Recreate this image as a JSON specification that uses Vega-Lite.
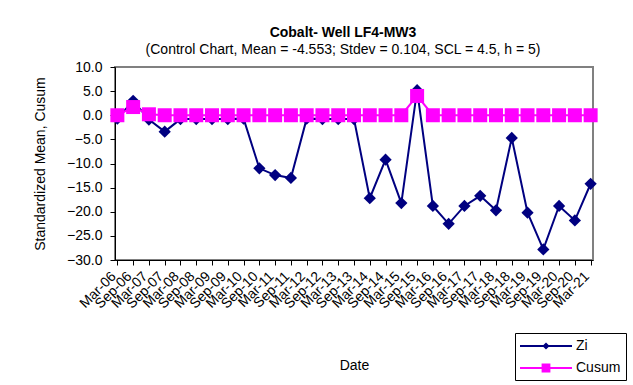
{
  "$schema": "https://vega.github.io/schema/vega-lite/v6.json",
  "autosize": "none",
  "width": 478,
  "height": 193,
  "padding": {"left": 115, "top": 67, "right": 40, "bottom": 125},
  "background": "white",
  "title": {
    "text": "Cobalt- Well LF4-MW3",
    "subtitle": "(Control Chart, Mean = -4.553; Stdev = 0.104, SCL = 4.5, h = 5)",
    "anchor": "middle",
    "dx": -11,
    "offset": 3,
    "font": "Liberation Sans",
    "fontSize": 14,
    "fontWeight": "bold",
    "color": "black",
    "subtitleFont": "Liberation Sans",
    "subtitleFontSize": 14,
    "subtitleColor": "black",
    "subtitlePadding": 3
  },
  "data": {
    "values": [
      {"date": "Mar-06", "series": "Zi", "value": -0.7},
      {"date": "Sep-06", "series": "Zi", "value": 3.0},
      {"date": "Mar-07", "series": "Zi", "value": -0.9},
      {"date": "Sep-07", "series": "Zi", "value": -3.4},
      {"date": "Mar-08", "series": "Zi", "value": -0.8},
      {"date": "Sep-08", "series": "Zi", "value": -0.8},
      {"date": "Mar-09", "series": "Zi", "value": -0.8},
      {"date": "Sep-09", "series": "Zi", "value": -0.8},
      {"date": "Mar-10", "series": "Zi", "value": -0.7},
      {"date": "Sep-10", "series": "Zi", "value": -11.0},
      {"date": "Mar-11", "series": "Zi", "value": -12.4},
      {"date": "Sep-11", "series": "Zi", "value": -13.0},
      {"date": "Mar-12", "series": "Zi", "value": -0.7},
      {"date": "Sep-12", "series": "Zi", "value": -0.8},
      {"date": "Mar-13", "series": "Zi", "value": -0.8},
      {"date": "Sep-13", "series": "Zi", "value": -0.8},
      {"date": "Mar-14", "series": "Zi", "value": -17.2},
      {"date": "Sep-14", "series": "Zi", "value": -9.2},
      {"date": "Mar-15", "series": "Zi", "value": -18.2},
      {"date": "Sep-15", "series": "Zi", "value": 5.2},
      {"date": "Mar-16", "series": "Zi", "value": -18.8},
      {"date": "Sep-16", "series": "Zi", "value": -22.5},
      {"date": "Mar-17", "series": "Zi", "value": -18.8},
      {"date": "Sep-17", "series": "Zi", "value": -16.7},
      {"date": "Mar-18", "series": "Zi", "value": -19.7},
      {"date": "Sep-18", "series": "Zi", "value": -4.7},
      {"date": "Mar-19", "series": "Zi", "value": -20.2},
      {"date": "Sep-19", "series": "Zi", "value": -27.8},
      {"date": "Mar-20", "series": "Zi", "value": -18.8},
      {"date": "Sep-20", "series": "Zi", "value": -21.8},
      {"date": "Mar-21", "series": "Zi", "value": -14.2},
      {"date": "Mar-06", "series": "Cusum", "value": 0},
      {"date": "Sep-06", "series": "Cusum", "value": 1.7},
      {"date": "Mar-07", "series": "Cusum", "value": 0.2},
      {"date": "Sep-07", "series": "Cusum", "value": 0},
      {"date": "Mar-08", "series": "Cusum", "value": 0},
      {"date": "Sep-08", "series": "Cusum", "value": 0},
      {"date": "Mar-09", "series": "Cusum", "value": 0},
      {"date": "Sep-09", "series": "Cusum", "value": 0},
      {"date": "Mar-10", "series": "Cusum", "value": 0},
      {"date": "Sep-10", "series": "Cusum", "value": 0},
      {"date": "Mar-11", "series": "Cusum", "value": 0},
      {"date": "Sep-11", "series": "Cusum", "value": 0},
      {"date": "Mar-12", "series": "Cusum", "value": 0},
      {"date": "Sep-12", "series": "Cusum", "value": 0},
      {"date": "Mar-13", "series": "Cusum", "value": 0},
      {"date": "Sep-13", "series": "Cusum", "value": 0},
      {"date": "Mar-14", "series": "Cusum", "value": 0},
      {"date": "Sep-14", "series": "Cusum", "value": 0},
      {"date": "Mar-15", "series": "Cusum", "value": 0},
      {"date": "Sep-15", "series": "Cusum", "value": 4.0},
      {"date": "Mar-16", "series": "Cusum", "value": 0},
      {"date": "Sep-16", "series": "Cusum", "value": 0},
      {"date": "Mar-17", "series": "Cusum", "value": 0},
      {"date": "Sep-17", "series": "Cusum", "value": 0},
      {"date": "Mar-18", "series": "Cusum", "value": 0},
      {"date": "Sep-18", "series": "Cusum", "value": 0},
      {"date": "Mar-19", "series": "Cusum", "value": 0},
      {"date": "Sep-19", "series": "Cusum", "value": 0},
      {"date": "Mar-20", "series": "Cusum", "value": 0},
      {"date": "Sep-20", "series": "Cusum", "value": 0},
      {"date": "Mar-21", "series": "Cusum", "value": 0}
    ]
  },
  "encoding": {
    "x": {
      "field": "date", "type": "ordinal", "sort": null,
      "scale": {"type": "point", "padding": 0.15},
      "axis": {
        "title": "Date", "labelAngle": -45, "labelAlign": "right", "labelBaseline": "middle",
        "labelPadding": 9, "labelOffset": -4, "titleY": 105, "titleBaseline": "middle"
      }
    },
    "y": {
      "field": "value", "type": "quantitative",
      "scale": {"domain": [-30, 10], "nice": false, "zero": false},
      "axis": {
        "title": "Standardized Mean, Cusum", "values": [-30, -25, -20, -15, -10, -5, 0, 5, 10],
        "format": ".1f", "titleX": -75, "titleBaseline": "middle", "labelPadding": 8
      }
    },
    "color": {
      "field": "series", "type": "nominal",
      "scale": {"domain": ["Zi", "Cusum"], "range": ["#000080", "#FF00FF"]},
      "legend": {
        "title": null, "orient": "none", "legendX": 400, "legendY": 266,
        "strokeColor": "black", "fillColor": "white", "padding": 5,
        "cornerRadius": 0,
        "labelFont": "Liberation Sans", "labelFontSize": 14, "labelColor": "black",
        "rowPadding": 7, "symbolSize": 256, "symbolOffset": 18, "labelOffset": 22,
        "encode": {
          "symbols": {
            "update": {
              "shape": {"signal": "datum.value === 'Zi' ? 'M-3.25,-0.13L3.25,-0.13L3.25,0.13L-3.25,0.13Z M0,-0.45L0.45,0L0,0.45L-0.45,0Z' : 'M-3.25,-0.13L3.25,-0.13L3.25,0.13L-3.25,0.13Z M-0.55,-0.55L0.55,-0.55L0.55,0.55L-0.55,0.55Z'"},
              "fill": {"signal": "datum.value === 'Zi' ? '#000080' : '#FF00FF'"},
              "strokeWidth": {"value": 0},
              "opacity": {"value": 1}
            }
          }
        }
      }
    }
  },
  "layer": [
    {"transform": [{"filter": "datum.series === 'Zi'"}], "mark": {"type": "line", "strokeWidth": 2}},
    {"transform": [{"filter": "datum.series === 'Zi'"}], "mark": {"type": "point", "shape": "diamond", "filled": true, "size": 150, "opacity": 1}},
    {"transform": [{"filter": "datum.series === 'Cusum'"}], "mark": {"type": "line", "strokeWidth": 2}},
    {"transform": [{"filter": "datum.series === 'Cusum'"}], "mark": {"type": "point", "shape": "square", "filled": true, "size": 196, "opacity": 1}}
  ],
  "config": {
    "view": {"stroke": "#808080", "strokeWidth": 2},
    "axis": {
      "grid": false, "domainColor": "black", "domainWidth": 1, "tickColor": "black", "tickSize": 5,
      "labelFont": "Liberation Sans", "labelFontSize": 14, "labelColor": "black",
      "titleFont": "Liberation Sans", "titleFontSize": 14, "titleFontWeight": "normal", "titleColor": "black"
    }
  }
}
